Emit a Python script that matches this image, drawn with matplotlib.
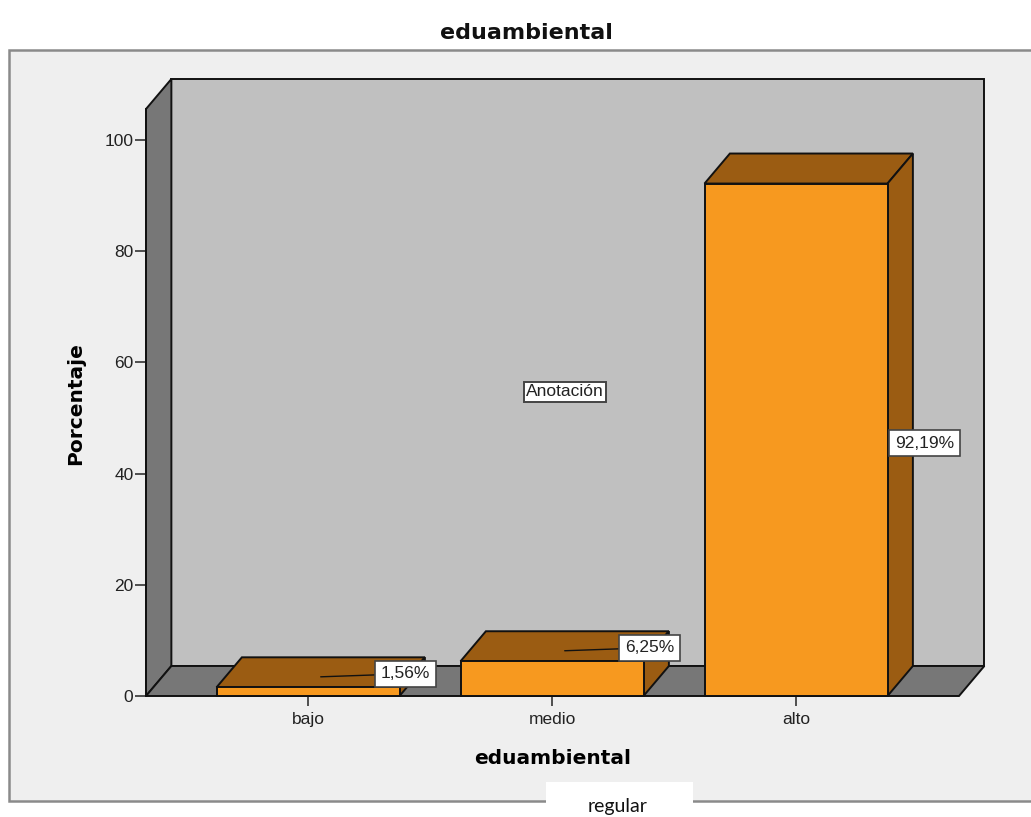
import matplotlib

matplotlib.use("Agg")

import matplotlib.pyplot as plt
from matplotlib.patches import Polygon, Rectangle


OUTPUT_FILE = "out.png"

CATEGORIES = ["bajo", "medio", "alto"]
PERCENTAGES = [1.56, 6.25, 92.19]
LABELS = ["1,56%", "6,25%", "92,19%"]
Y_TICKS = [0, 20, 40, 60, 80, 100]

FIG_W, FIG_H = 1031, 817
DPI = 100

# pixel box of the front plane of the 3D axes
AX_LEFT, AX_RIGHT = 146, 959
AX_BOTTOM, AX_TOP = 696, 109

X_MIN, X_MAX = -0.664, 2.668
Y_TOP = 105.6
BAR_WIDTH = 0.75
DEPTH_X = 0.104
DEPTH_Y = 5.4

FRONT = "#F7991F"
SHADE = "#9B5C12"
BACK_WALL = "#C0C0C0"
SIDE_WALL = "#777777"
FRAME_BG = "#EFEFEF"
EDGE = "#111111"


def px_x(value):
    return value / FIG_W


def px_y(value):
    return 1 - value / FIG_H


def add_poly(axis, points, color, z):
    axis.add_patch(
        Polygon(
            points,
            closed=True,
            facecolor=color,
            edgecolor=EDGE,
            linewidth=1.4,
            joinstyle="miter",
            clip_on=False,
            zorder=z,
        )
    )


def main() -> None:
    figure = plt.figure(figsize=(FIG_W / DPI, FIG_H / DPI), dpi=DPI)
    figure.patch.set_facecolor("white")

    # outer chart frame (right side runs off the image)
    figure.patches.append(
        Rectangle(
            (px_x(9), px_y(801)),
            px_x(1060),
            (801 - 50) / FIG_H,
            transform=figure.transFigure,
            facecolor=FRAME_BG,
            edgecolor="#8A8A8A",
            linewidth=1.8,
            zorder=-5,
        )
    )

    axis = figure.add_axes(
        [
            px_x(AX_LEFT),
            px_y(AX_BOTTOM),
            (AX_RIGHT - AX_LEFT) / FIG_W,
            (AX_BOTTOM - AX_TOP) / FIG_H,
        ]
    )
    axis.set_facecolor("none")
    axis.set_xlim(X_MIN, X_MAX)
    axis.set_ylim(0, Y_TOP)

    # back wall, left wall and floor
    add_poly(
        axis,
        [
            (X_MIN + DEPTH_X, DEPTH_Y),
            (X_MAX + DEPTH_X, DEPTH_Y),
            (X_MAX + DEPTH_X, Y_TOP + DEPTH_Y),
            (X_MIN + DEPTH_X, Y_TOP + DEPTH_Y),
        ],
        BACK_WALL,
        1,
    )
    add_poly(
        axis,
        [
            (X_MIN, 0),
            (X_MIN + DEPTH_X, DEPTH_Y),
            (X_MIN + DEPTH_X, Y_TOP + DEPTH_Y),
            (X_MIN, Y_TOP),
        ],
        SIDE_WALL,
        1,
    )
    add_poly(
        axis,
        [
            (X_MIN, 0),
            (X_MAX, 0),
            (X_MAX + DEPTH_X, DEPTH_Y),
            (X_MIN + DEPTH_X, DEPTH_Y),
        ],
        SIDE_WALL,
        1,
    )

    half = BAR_WIDTH / 2
    label_box = dict(
        boxstyle="square,pad=0.32",
        facecolor="white",
        edgecolor="#444444",
        linewidth=1.2,
    )

    for index, value in enumerate(PERCENTAGES):
        left = index - half
        right = index + half

        add_poly(
            axis,
            [
                (left, value),
                (right, value),
                (right + DEPTH_X, value + DEPTH_Y),
                (left + DEPTH_X, value + DEPTH_Y),
            ],
            SHADE,
            2,
        )
        add_poly(
            axis,
            [
                (right, 0),
                (right + DEPTH_X, DEPTH_Y),
                (right + DEPTH_X, value + DEPTH_Y),
                (right, value),
            ],
            SHADE,
            2,
        )
        add_poly(
            axis,
            [(left, 0), (right, 0), (right, value), (left, value)],
            FRONT,
            3,
        )

        if value > 50:
            axis.text(
                right + 0.03,
                value / 2 - 0.6,
                LABELS[index],
                ha="left",
                va="center",
                fontsize=12.5,
                family="Liberation Sans",
                color="#222222",
                bbox=label_box,
                zorder=6,
            )
        else:
            axis.annotate(
                LABELS[index],
                xy=(index + DEPTH_X / 2, value + DEPTH_Y * 0.35),
                xytext=(index + 0.40, value + DEPTH_Y * 0.45),
                ha="center",
                va="center",
                fontsize=12.5,
                family="Liberation Sans",
                color="#222222",
                bbox=label_box,
                arrowprops=dict(
                    arrowstyle="-",
                    color="#111111",
                    linewidth=1.0,
                    shrinkA=0,
                    shrinkB=0,
                ),
                zorder=6,
            )

    axis.text(
        1.053,
        54.7,
        "Anotación",
        ha="center",
        va="center",
        fontsize=12.5,
        family="Liberation Sans",
        color="#222222",
        bbox=dict(
            boxstyle="square,pad=0.12",
            facecolor="white",
            edgecolor="#444444",
            linewidth=1.4,
        ),
        zorder=6,
    )

    for side in ["top", "right", "bottom"]:
        axis.spines[side].set_visible(False)
    axis.spines["left"].set_linewidth(1.4)
    axis.spines["left"].set_color(EDGE)
    axis.spines["left"].set_zorder(4)

    axis.set_yticks(Y_TICKS)
    axis.set_xticks(range(len(CATEGORIES)))
    axis.set_xticklabels(CATEGORIES)
    axis.tick_params(
        axis="y",
        direction="out",
        length=8,
        width=1.2,
        pad=1,
        color="#333333",
        labelsize=12.5,
        labelcolor="#222222",
    )
    axis.tick_params(
        axis="x",
        direction="out",
        length=7.5,
        width=1.2,
        pad=4,
        color="#333333",
        labelsize=12.5,
        labelcolor="#222222",
    )
    for label in axis.get_xticklabels() + axis.get_yticklabels():
        label.set_family("Liberation Sans")

    axis.set_xlabel(
        "eduambiental",
        fontsize=14.5,
        fontweight="bold",
        family="DejaVu Sans",
        va="baseline",
    )
    axis.xaxis.set_label_coords(0.5, (AX_BOTTOM - 764) / (AX_BOTTOM - AX_TOP))

    axis.set_ylabel(
        "Porcentaje",
        fontsize=14.5,
        fontweight="bold",
        family="DejaVu Sans",
        va="center",
    )
    axis.yaxis.set_label_coords(
        (76 - AX_LEFT) / (AX_RIGHT - AX_LEFT),
        (AX_BOTTOM - 404) / (AX_BOTTOM - AX_TOP),
    )

    figure.text(
        px_x(526),
        px_y(39),
        "eduambiental",
        ha="center",
        va="baseline",
        fontsize=16,
        fontweight="bold",
        family="DejaVu Sans",
        color="#111111",
    )

    # white label pasted over the bottom of the frame
    figure.patches.append(
        Rectangle(
            (px_x(546), 0),
            (693 - 546) / FIG_W,
            (FIG_H - 782) / FIG_H,
            transform=figure.transFigure,
            facecolor="white",
            edgecolor="none",
            zorder=5,
        )
    )
    figure.text(
        px_x(618),
        px_y(812),
        "regular",
        ha="center",
        va="baseline",
        fontsize=14,
        family="Lato",
        color="#111111",
        zorder=6,
    )

    figure.savefig(OUTPUT_FILE, dpi=DPI)
    plt.close(figure)


if __name__ == "__main__":
    main()
